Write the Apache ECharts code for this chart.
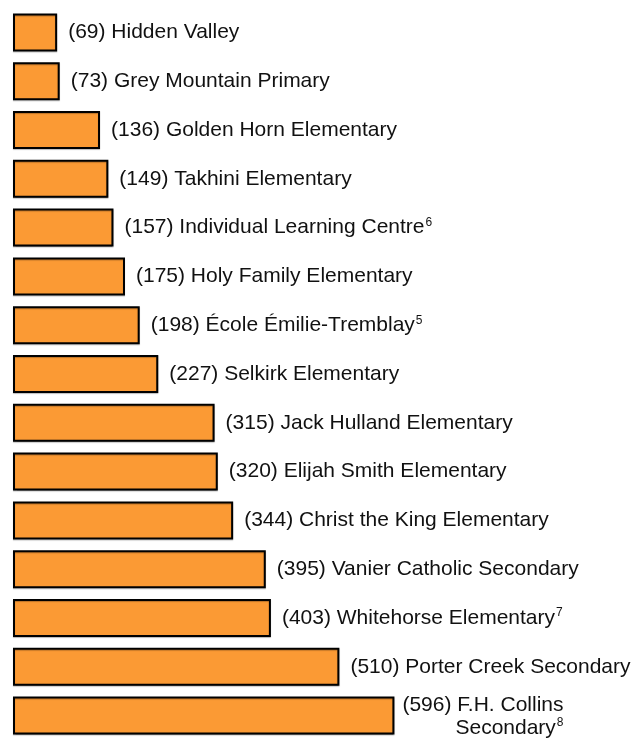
<!DOCTYPE html>
<html>
<head>
<meta charset="utf-8">
<script src="https://cdn.jsdelivr.net/npm/echarts@6/dist/echarts.min.js"></script>
<style>
  html, body { margin: 0; padding: 0; background: #fff; }
  #chart { width: 635px; height: 740px; }
</style>
</head>
<body>
<div id="chart"></div>
<script>
  // enrolment per school, top to bottom
  var schools = ['Hidden Valley', 'Grey Mountain Primary', 'Golden Horn Elementary', 'Takhini Elementary',
    'Individual Learning Centre', 'Holy Family Elementary', 'École Émilie-Tremblay', 'Selkirk Elementary',
    'Jack Hulland Elementary', 'Elijah Smith Elementary', 'Christ the King Elementary',
    'Vanier Catholic Secondary', 'Whitehorse Elementary', 'Porter Creek Secondary', 'F.H. Collins\nSecondary'];
  var enrolment = [69, 73, 136, 149, 157, 175, 198, 227, 315, 320, 344, 395, 403, 510, 596];
  // footnote numbers shown as superscripts
  var notes = ['', '', '', '', '6', '', '5', '', '', '', '', '', '7', '', '8'];

  var myChart = echarts.init(document.getElementById('chart'));

  var seriesData = enrolment.map(function (v, i) {
    var item = { value: v };
    if (schools[i].indexOf('\n') > -1) {
      item.label = { offset: [-3, 1] };
    }
    return item;
  });

  var option = {
    animation: false,
    grid: { left: 13, right: 238, top: 8, bottom: 0 },
    xAxis: {
      type: 'value',
      min: 0,
      max: 600,
      show: false
    },
    yAxis: {
      type: 'category',
      inverse: true,
      data: schools,
      show: false
    },
    series: [{
      type: 'bar',
      data: seriesData,
      barWidth: 38,
      itemStyle: {
        color: '#FB9A34',
        borderColor: '#000',
        borderWidth: 2,
        shadowColor: 'rgba(0,0,0,0.25)',
        shadowOffsetY: 1,
        shadowBlur: 1
      },
      label: {
        show: true,
        position: 'right',
        distance: 11,
        color: '#111',
        fontFamily: 'Liberation Sans, Arial, sans-serif',
        fontSize: 21,
        formatter: function (p) {
          var parts = schools[p.dataIndex].split('\n');
          var s = '{t|(' + p.value + ') ' + parts[0] + '}';
          if (parts.length > 1) {
            s += '\n{ind|' + parts[1] + '}';
          }
          if (notes[p.dataIndex]) {
            s += '{sup|' + notes[p.dataIndex] + '}';
          }
          return s;
        },
        rich: {
          t: { fontSize: 21, color: '#111', lineHeight: 23 },
          ind: { fontSize: 21, color: '#111', lineHeight: 23, padding: [0, 0, 0, 53] },
          sup: { fontSize: 12, color: '#111', padding: [0, 0, 10, 1] }
        }
      }
    }]
  };
  myChart.setOption(option);
</script>
</body>
</html>
